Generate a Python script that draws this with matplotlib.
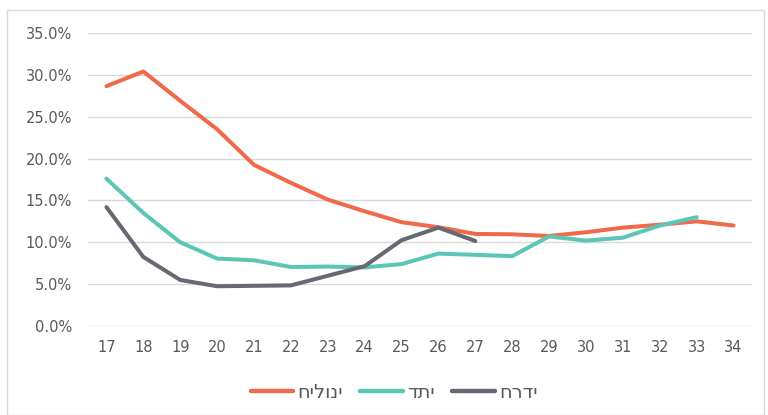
import matplotlib.pyplot as plt
from matplotlib.patches import Rectangle
from matplotlib.ticker import FuncFormatter

ages = list(range(17, 35))
secular = [28.65, 30.4, 26.9, 23.5, 19.25, 17.1, 15.1, 13.7, 12.4, 11.8, 11.0, 10.95, 10.75, 11.2, 11.75, 12.1, 12.5, 12.0]
religious = [17.6, 13.5, 10.0, 8.05, 7.85, 7.05, 7.1, 7.0, 7.4, 8.65, 8.5, 8.35, 10.7, 10.2, 10.55, 12.0, 13.0]
haredi = [14.2, 8.25, 5.5, 4.75, 4.8, 4.85, 6.0, 7.15, 10.25, 11.75, 10.15]

labels = ['חילוני', 'דתי', 'חרדי']
colors = ['#EE6A4B', '#5CC6B6', '#666971']

fig = plt.figure(figsize=(7.68, 4.15), dpi=100)
ax = fig.add_axes([88 / 768, 1 - 326 / 415, (752 - 88) / 768, (326 - 33) / 415])

for vals, lab, col in zip([secular, religious, haredi], labels, colors):
    ax.plot(range(len(vals)), vals, color=col, lw=2.9, label=lab,
            solid_capstyle='round', solid_joinstyle='round')

ax.set_xlim(-0.5, len(ages) - 0.5)
ax.set_ylim(0, 35)
ax.set_yticks(range(0, 36, 5))
ax.yaxis.set_major_formatter(FuncFormatter(lambda v, p: f'{v:.1f}%'))
ax.set_xticks(range(len(ages)))
ax.set_xticklabels([str(a) for a in ages])
ax.grid(axis='y', color='#d9d9d9', lw=1)
ax.set_axisbelow(True)
for s in ax.spines.values():
    s.set_visible(False)
ax.tick_params(length=0, labelsize=10.5, colors='#595959', pad=10)
ax.tick_params(axis='y', pad=11.5)

leg = fig.legend(loc='center', bbox_to_anchor=(394 / 768, 1 - 392 / 415), ncol=3, frameon=False,
                 fontsize=14, labelcolor='#595959', handlelength=2.2, columnspacing=0.9,
                 handletextpad=0.2)
for h in leg.get_lines():
    h.set_linewidth(3.2)

fig.patches.append(Rectangle((7 / 768, 0), 757 / 768, 1 - 10 / 415, transform=fig.transFigure,
                             fill=False, edgecolor='#d9d9d9', lw=1))

fig.savefig('out.png', dpi=100)
